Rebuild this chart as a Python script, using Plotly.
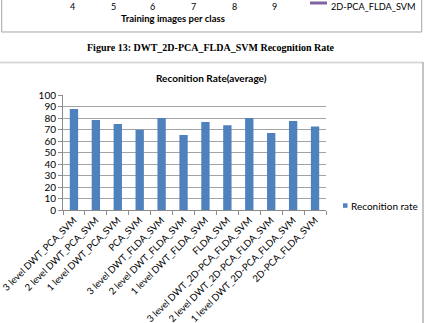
import plotly.graph_objects as go

methods = [
    "3 level DWT_PCA_SVM", "2 level DWT_PCA_SVM", "1 level DWT_PCA_SVM", "PCA_SVM",
    "3 level DWT_FLDA_SVM", "2 level DWT_FLDA_SVM", "1 level DWT_FLDA_SVM", "FLDA_SVM",
    "3 level DWT_2D-PCA_FLDA_SVM", "2 level DWT_2D-PCA_FLDA_SVM",
    "1 level DWT_2D-PCA_FLDA_SVM", "2D-PCA_FLDA_SVM",
]
rates = [88.1, 78.5, 75.0, 70.0, 80.2, 65.4, 76.7, 73.8, 80.2, 67.2, 77.6, 72.7]
series_name = "Reconition rate"
chart_title = "Reconition Rate(average)"
prev_ticks = ["4", "5", "6", "7", "8", "9"]
prev_xlabel = "Training images per class"
prev_legend = "2D-PCA_FLDA_SVM"
caption = "Figure 13: DWT_2D-PCA_FLDA_SVM Recognition Rate"

W, H = 426, 323
def px(x):
    return x / W
def py(y):
    return 1 - y / H

FONT = "Lato, Open Sans, sans-serif"
BLUE = "#4F81BD"
GRID = "#8C8C8C"

fig = go.Figure(go.Bar(x=methods, y=rates, marker_color=BLUE, width=0.38,
                       name=series_name, showlegend=False))

annotations = [
    dict(text="<b>%s</b>" % chart_title, x=px(211), y=py(77.5), xref="paper", yref="paper",
         showarrow=False, xanchor="center", yanchor="middle",
         font=dict(family=FONT, size=10, color="#000")),
    dict(text=series_name, x=px(349), y=py(205.5), xref="paper", yref="paper",
         showarrow=False, xanchor="left", yanchor="middle",
         font=dict(family=FONT, size=10, color="#000")),
    dict(text="<b>%s</b>" % caption, x=px(211), y=py(47.5), xref="paper", yref="paper",
         showarrow=False, xanchor="center", yanchor="middle",
         font=dict(family="Liberation Serif, serif", size=10, color="#000")),
    dict(text="<b>%s</b>" % prev_xlabel, x=px(173), y=py(12), xref="paper", yref="paper",
         showarrow=False, xanchor="center", yanchor="top", borderpad=0,
         font=dict(family=FONT, size=9.5, color="#000")),
    dict(text=prev_legend, x=px(330), y=py(0), xref="paper", yref="paper",
         showarrow=False, xanchor="left", yanchor="top", borderpad=0,
         font=dict(family=FONT, size=9.2, color="#000")),
]
prev_x = [72.7, 113, 152.7, 193, 234, 274]
for t, xx in zip(prev_ticks, prev_x):
    annotations.append(dict(text=t, x=px(xx), y=py(0), xref="paper", yref="paper",
                            showarrow=False, xanchor="center", yanchor="top", borderpad=0,
                            font=dict(family=FONT, size=9, color="#000")))

shapes = [
    # previous chart box (partially visible)
    dict(type="path", path="M %f %f L %f %f L %f %f L %f %f" % (
        px(1.7), py(-5), px(1.7), py(32), px(421.7), py(32), px(421.7), py(-5)),
        xref="paper", yref="paper", line=dict(color="#A6A6A6", width=1)),
    # previous legend marker
    dict(type="line", x0=px(310), x1=px(327), y0=py(3), y1=py(3), xref="paper", yref="paper",
         line=dict(color="#8064A2", width=3)),
    # current chart box
    dict(type="line", x0=0, x1=px(423), y0=py(62.5), y1=py(62.5), xref="paper", yref="paper",
         line=dict(color="#D9D9D9", width=2)),
    dict(type="line", x0=px(423), x1=px(423), y0=py(62), y1=py(330), xref="paper", yref="paper",
         line=dict(color="#8C8C8C", width=1)),
    # legend key
    dict(type="rect", x0=px(343), x1=px(347.5), y0=py(203.3), y1=py(207.8), xref="paper",
         yref="paper", fillcolor=BLUE, line=dict(width=0)),
]

fig.update_layout(
    template="none",
    width=W, height=H,
    margin=dict(l=0, r=0, t=0, b=0),
    paper_bgcolor="white", plot_bgcolor="white",
    bargap=0.62,
    showlegend=False,
    annotations=annotations,
    shapes=shapes,
    xaxis=dict(domain=[px(63), px(326)], tickangle=-45, showline=True, linecolor=GRID,
               linewidth=1, ticks="outside", tickson="boundaries", ticklen=4,
               tickcolor=GRID, showgrid=False, automargin=False,
               tickfont=dict(family=FONT, size=9.5, color="#000")),
    yaxis=dict(domain=[py(210), py(95.3)], range=[0, 100], dtick=10, showgrid=True,
               gridcolor="#A3A3A3", gridwidth=1, showline=True, linecolor=GRID, ticks="outside",
               ticklen=4, tickcolor=GRID, zeroline=False, automargin=False,
               tickfont=dict(family=FONT, size=10, color="#000")),
)

fig.write_html("out.html")
